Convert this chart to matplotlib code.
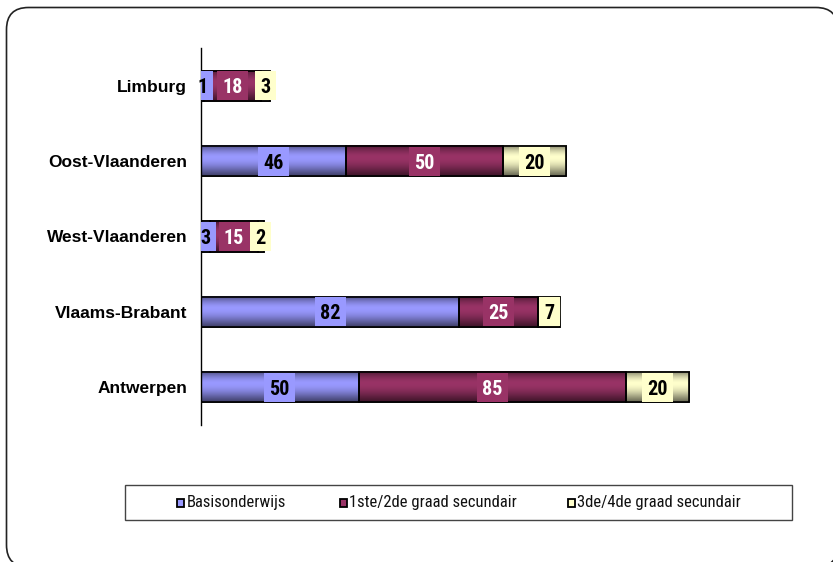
import matplotlib
matplotlib.use("Agg")
import matplotlib.pyplot as plt
import numpy as np
from matplotlib.patches import Rectangle, FancyBboxPatch
from matplotlib.colors import to_rgb
from matplotlib.transforms import IdentityTransform
from matplotlib import font_manager

categories = ["Antwerpen", "Vlaams-Brabant", "West-Vlaanderen", "Oost-Vlaanderen", "Limburg"]
series_names = ["Basisonderwijs", "1ste/2de graad secundair", "3de/4de graad secundair"]
basis = [50, 82, 3, 46, 1]
graad12 = [85, 25, 15, 50, 18]
graad34 = [20, 7, 2, 20, 3]
colors = ["#9999FF", "#993366", "#FFFFCC"]
text_colors = ["black", "white", "black"]

names = {f.name for f in font_manager.fontManager.ttflist}
narrow_pref = [n for n in ["Roboto Condensed", "PT Sans Narrow", "Archivo Narrow"] if n in names]
narrow = narrow_pref[:1] + ["DejaVu Sans"]
main = ["Liberation Sans", "DejaVu Sans"]

W, H = 833, 562
fig = plt.figure(figsize=(W / 100, H / 100), dpi=100)

# outer rounded frame in display pixels (origin bottom-left); filled so Agg does not clip the stroke
frame = FancyBboxPatch((6.5, H - 567), 838 - 6.5, 567 - 7.5,
                       boxstyle="round,pad=0,rounding_size=22",
                       facecolor="white", edgecolor="#222222", linewidth=1.2,
                       transform=IdentityTransform(), zorder=-5)
fig.patches.append(frame)

# overlay axes in pixel coordinates for the legend
bg = fig.add_axes([0, 0, 1, 1], zorder=-1)
bg.set_xlim(0, W)
bg.set_ylim(H, 0)
bg.set_autoscale_on(False)
bg.axis("off")

left_px, right_px = 201, 201 + 3.15 * 180
top_px, bot_px = 48, 425
ax = fig.add_axes([left_px / W, 1 - bot_px / H, (right_px - left_px) / W, (bot_px - top_px) / H])
ax.patch.set_alpha(0)
ax.set_xlim(0, 180)
ax.set_ylim(-0.5, len(categories) - 0.5)
for s in ["top", "right", "bottom"]:
    ax.spines[s].set_visible(False)
ax.spines["left"].set_linewidth(1.0)
ax.set_xticks([])
ax.set_yticks(range(len(categories)))
ax.set_yticklabels(categories, fontsize=12.5, fontweight="bold", family=main)
ax.tick_params(axis="y", length=0, pad=10)

px_per_x = (right_px - left_px) / 180

y = np.arange(len(categories))
h = 0.4
data = [basis, graad12, graad34]
left = np.zeros(len(categories))

t = np.linspace(0, 1, 60)
prof = np.where(t < 0.62, 0.42 + 0.58 * np.sin(t / 0.62 * np.pi / 2) ** 1.2,
                1.0 - 0.5 * ((t - 0.62) / 0.38) ** 1.6)

for si, vals in enumerate(data):
    bars = ax.barh(y, vals, left=left, height=h, color=colors[si], edgecolor="black",
                   linewidth=1.2, zorder=2)
    base = np.array(to_rgb(colors[si]))
    img = (base[None, :] * prof[:, None])[:, None, :]
    for b in bars:
        x0, y0, bw, bh = b.get_x(), b.get_y(), b.get_width(), b.get_height()
        ax.imshow(img, extent=(x0, x0 + bw, y0 + bh, y0), aspect="auto",
                  interpolation="bilinear", zorder=2.5)
        ax.add_patch(Rectangle((x0, y0), bw, bh, fill=False, edgecolor="black",
                               linewidth=1.2, zorder=3))
    for yi, (lv, v) in enumerate(zip(left, vals)):
        cx = lv + v / 2
        bw_px = 11 + 10 * len(str(v))
        bh_d = h * 0.96
        ax.add_patch(Rectangle((cx - bw_px / px_per_x / 2, yi - bh_d / 2), bw_px / px_per_x, bh_d,
                               facecolor=colors[si], edgecolor="none", zorder=4))
        ax.text(cx, yi, str(v), ha="center", va="center_baseline", fontsize=14.5,
                fontweight="bold", family=narrow, color=text_colors[si], zorder=5)
    left = left + np.array(vals)

ax.set_xlim(0, 180)
ax.set_ylim(-0.5, len(categories) - 0.5)

# legend box
lx0, lx1, ly0, ly1 = 125, 792, 485, 520
bg.add_patch(Rectangle((lx0, ly0), lx1 - lx0, ly1 - ly0, fill=False,
                       edgecolor="#444444", linewidth=1.0))
item_x = [177, 340, 568]
ymid = (ly0 + ly1) / 2 + 0.5
for xi, name, c in zip(item_x, series_names, colors):
    bg.add_patch(Rectangle((xi, ymid - 4), 7, 8, facecolor=c, edgecolor="black", linewidth=1.3))
    bg.text(xi + 9.5, ymid, name, ha="left", va="center", fontsize=12,
            family=narrow, color="#111111")

fig.savefig("out.png", dpi=100)
